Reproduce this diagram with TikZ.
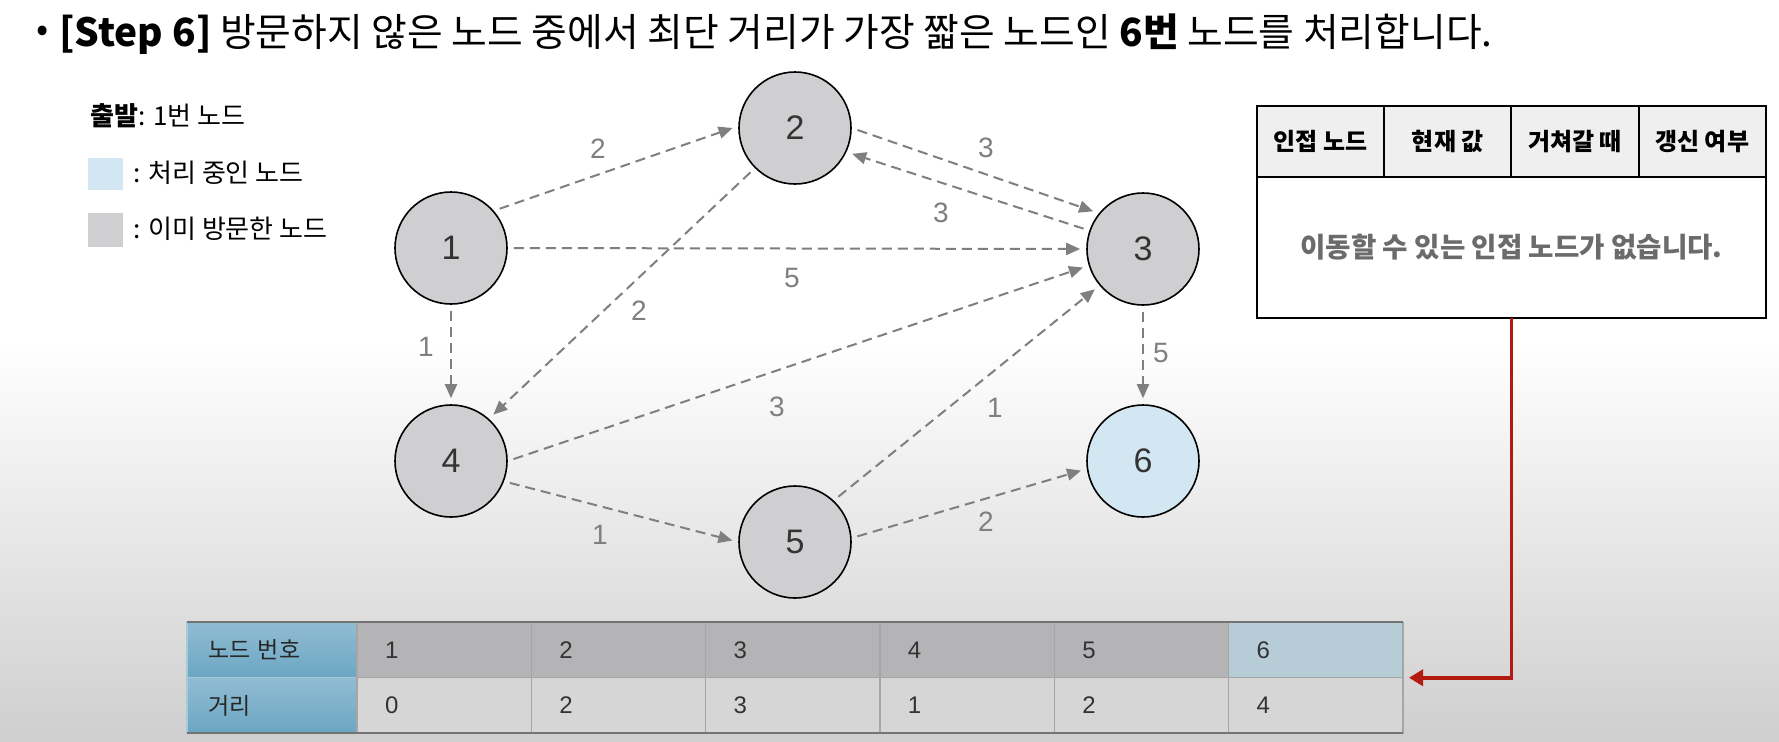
\documentclass[tikz,border=0pt]{standalone}
\usepackage{fontspec}
\usepackage{xcolor}
\usepackage{tikz}
\usetikzlibrary{arrows.meta,positioning}
\setmainfont{Noto Sans CJK KR}
\newfontfamily\numfont{Liberation Sans}
\definecolor{visited}{HTML}{CFCFD1}
\definecolor{current}{HTML}{D3E7F3}
\definecolor{edgegray}{HTML}{7F7F7F}
\definecolor{arrowred}{HTML}{B31B10}
\definecolor{headblue}{HTML}{6CA6C3}
\definecolor{rowgray}{HTML}{B4B4B6}
\definecolor{rowlight}{HTML}{D6D6D7}
\definecolor{rowblue}{HTML}{B6CCD7}
\definecolor{headfill}{HTML}{EFEFEF}

\begin{document}
\begin{tikzpicture}[x=0.5pt, y=-0.5pt]
        \tikzstyle{vertex} = [circle, draw=black, line width=0.8pt, fill=visited, minimum size=56pt, inner sep=0pt, font=\numfont\fontsize{17}{17}\selectfont, text=black!80]
        \tikzstyle{edge} = [draw=edgegray, line width=1pt, dash pattern=on 5pt off 3pt, -{Triangle[length=7pt,width=6pt]}, shorten >=3pt, shorten <=3pt]
        \tikzstyle{elabel} = [font=\numfont\fontsize{14}{14}\selectfont, text=edgegray, inner sep=0pt]
        \tikzstyle{legend} = [anchor=west, inner sep=0pt, font=\fontsize{13}{13}\selectfont]
        \tikzstyle{hcell} = [draw=black, line width=1pt, fill=headfill, minimum width=63.6pt, minimum height=35.5pt, inner sep=0pt, outer sep=0pt, font=\bfseries\fontsize{12}{12}\selectfont]
        \tikzstyle{numcell} = [draw=gray!70, line width=0.6pt, minimum width=87.17pt, minimum height=27.75pt, inner xsep=14pt, text width=59.17pt, align=left, outer sep=0pt, font=\numfont\fontsize{12}{12}\selectfont, text=black!80]
        \tikzstyle{keycell} = [numcell, minimum width=85pt, inner xsep=10.5pt, text width=64pt, top color=headblue!75!white, bottom color=headblue, draw=headblue!60!white, font=\fontsize{11.5}{11.5}\selectfont, text=black!85]
        \tikzstyle{redline} = [draw=arrowred, line width=1.8pt, -{Triangle[length=7pt,width=8pt]}, shorten >=3pt]

        % background
        \useasboundingbox (0,0) rectangle (1779,741);
        \fill[white] (0,0) rectangle (1779,741);
        \shade[top color=white, bottom color=gray!38] (0,340) rectangle (1779,741);

        % title and legend
        \node[inner sep=0pt, font=\fontsize{18}{18}\selectfont] (bullet) at (43,34) {•};
        \node[anchor=west, inner sep=0pt, font=\fontsize{19.4}{19.4}\selectfont] (title) at (59,34) {\textbf{[Step 6]} 방문하지 않은 노드 중에서 최단 거리가 가장 짧은 노드인 \textbf{6번} 노드를 처리합니다.};
        \node[legend] (start) at (90,116) {\textbf{출발}: 1번 노드};
        \node[fill=current, minimum width=17.5pt, minimum height=16pt, inner sep=0pt] (keycur) at (105.5,174) {};
        \node[legend] (keycurtxt) at (133,173) {: 처리 중인 노드};
        \node[fill=visited, minimum width=17.5pt, minimum height=17pt, inner sep=0pt] (keyvis) at (105.5,230) {};
        \node[legend] (keyvistxt) at (133,229) {: 이미 방문한 노드};

        % graph
        \node[vertex] (n1) at (451,248) {1};
        \node[vertex] (n2) at (795,128) {2};
        \node[vertex] (n3) at (1143,249) {3};
        \node[vertex] (n4) at (451,461) {4};
        \node[vertex] (n5) at (795,542) {5};
        \node[vertex, fill=current] (n6) at (1143,461) {6};

        \draw[edge] (n1.41) -- (n2.178);
        \draw[edge] (n2.0) -- (n3.141);
        \draw[edge] (n3.161) -- (n2.-25);
        \draw[edge] (n1.0) -- (n3.180);
        \draw[edge] (n2.225) -- (n4.48);
        \draw[edge] (n1.270) -- (n4.90);
        \draw[edge] (n4.0) -- (n3.197);
        \draw[edge] (n5.47) -- (n3.220);
        \draw[edge] (n3.270) -- (n6.90);
        \draw[edge] (n4.-21) -- (n5.180);
        \draw[edge] (n5.4) -- (n6.188);

        \node[elabel] (w12) at (598,149) {2};
        \node[elabel] (w23) at (986,148) {3};
        \node[elabel] (w32) at (941,213) {3};
        \node[elabel] (w13) at (792,278) {5};
        \node[elabel] (w24) at (639,311) {2};
        \node[elabel] (w14) at (426,347) {1};
        \node[elabel] (w43) at (777,407) {3};
        \node[elabel] (w53) at (995,408) {1};
        \node[elabel] (w36) at (1161,353) {5};
        \node[elabel] (w45) at (600,535) {1};
        \node[elabel] (w56) at (986,522) {2};

        % adjacency table
        \node[hcell] (h1) at (1320.6,141.5) {인접 노드};
        \node[hcell, right=0pt of h1] (h2) {현재 값};
        \node[hcell, right=0pt of h2] (h3) {거쳐갈 때};
        \node[hcell, right=0pt of h3] (h4) {갱신 여부};
        \node[draw=black, line width=1pt, fill=white, minimum width=254.5pt, minimum height=70.5pt, outer sep=0pt, anchor=north west, text=black!58, font=\bfseries\fontsize{13.8}{13.8}\selectfont] (adj) at (h1.south west) {이동할 수 있는 인접 노드가 없습니다.};

        % distance table
        \node[keycell] (hd1) at (272,650) {노드 번호};
        \node[keycell] (hd2) at (272,705.5) {거리};
        \foreach \i/\d/\c in {1/0/rowgray, 2/2/rowgray, 3/3/rowgray, 4/1/rowgray, 5/2/rowgray, 6/4/rowblue} {
            \node[numcell, fill=\c] (k\i) at ({357+174.33*(\i-1)+87.17},650) {\i};
            \node[numcell, fill=rowlight] (v\i) at ({357+174.33*(\i-1)+87.17},705.5) {\d};
        }
        \draw[gray!90!black, line width=1pt] (hd1.north west) -- (k6.north east);
        \draw[gray!90!black, line width=1pt] (hd2.south west) -- (v6.south east);

        \draw[redline] (h2.east |- adj.south) |- (k6.south east);
    \end{tikzpicture}
\end{document}
